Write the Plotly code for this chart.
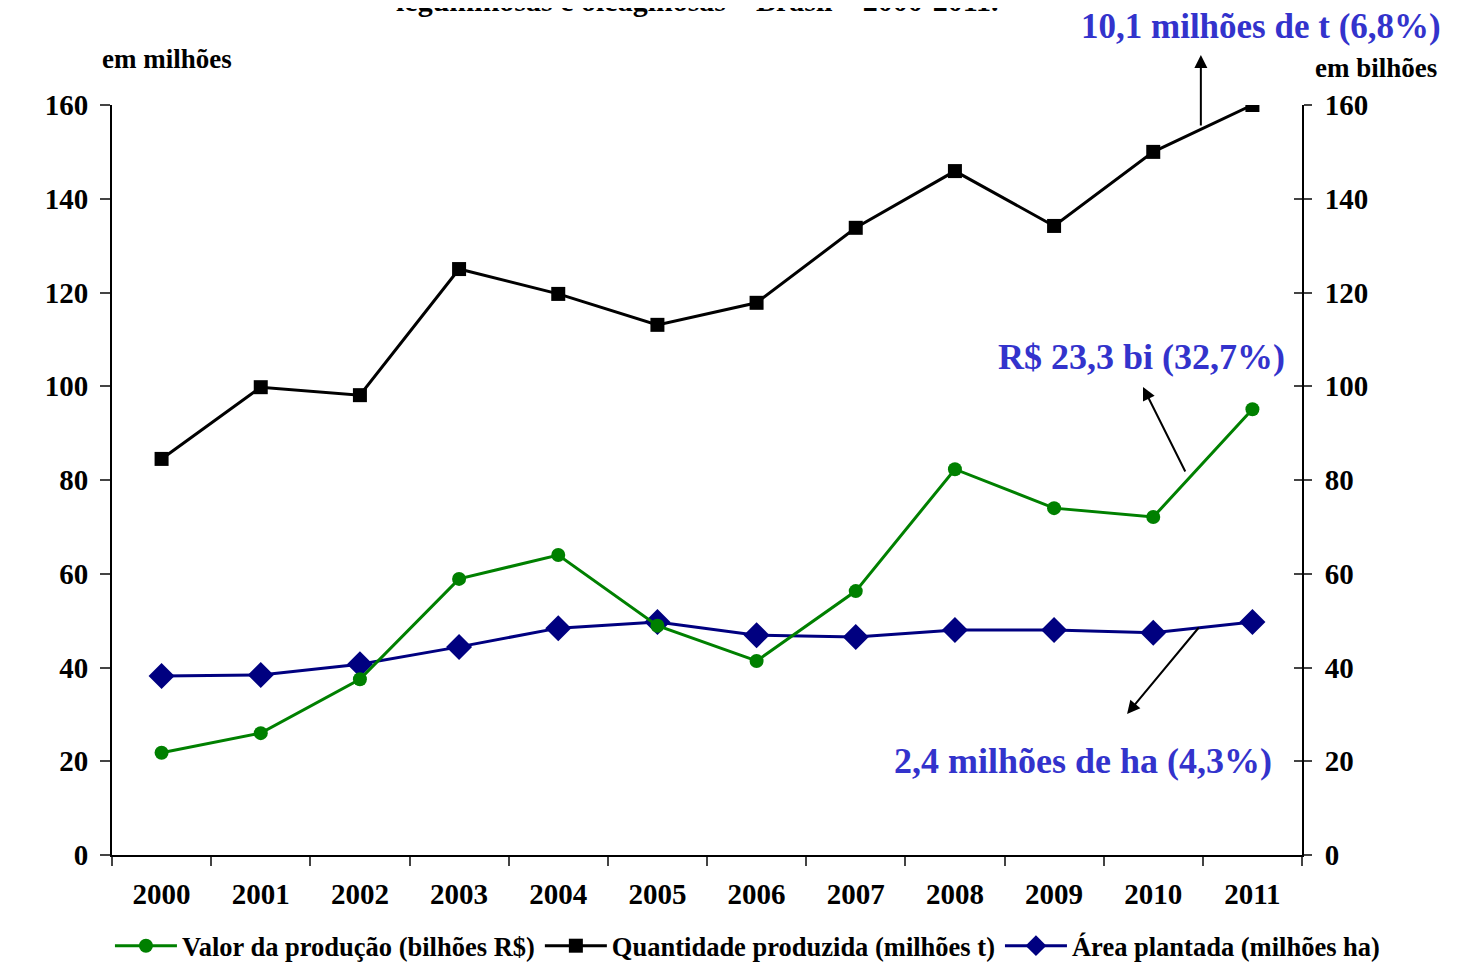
import plotly.graph_objects as go

years = ["2000", "2001", "2002", "2003", "2004", "2005", "2006", "2007", "2008", "2009", "2010", "2011"]
valor = [21.8, 26.0, 37.5, 58.9, 64.0, 48.9, 41.4, 56.3, 82.3, 74.0, 72.1, 95.1]
quantidade = [84.5, 99.8, 98.1, 125.0, 119.7, 113.1, 117.8, 133.8, 145.9, 134.2, 150.0, 160.0]
area = [38.2, 38.4, 40.7, 44.4, 48.4, 49.7, 46.9, 46.5, 48.0, 48.0, 47.4, 49.7]
y_ticks = [0, 20, 40, 60, 80, 100, 120, 140, 160]

names = ["Valor da produção (bilhões R$)", "Quantidade produzida (milhões t)", "Área plantada (milhões ha)"]

FONT = "Liberation Serif, Times New Roman, serif"
BLUE_TXT = "#3333CC"

fig = go.Figure()
fig.add_trace(go.Scatter(x=years, y=valor, name=names[0], mode="lines+markers",
                         line=dict(color="#008000", width=3),
                         marker=dict(symbol="circle", size=14, color="#008000"),
                         yaxis="y2"))
fig.add_trace(go.Scatter(x=years, y=quantidade, name=names[1], mode="lines+markers",
                         line=dict(color="black", width=3),
                         marker=dict(symbol="square", size=14, color="black")))
fig.add_trace(go.Scatter(x=years, y=area, name=names[2], mode="lines+markers",
                         line=dict(color="#000080", width=3),
                         marker=dict(symbol="diamond", size=20, color="#000080")))

axis_font = dict(family=FONT, size=29, color="black", weight="bold")
yr = [0, 160]

# the page body adds an 8px offset, so the figure is 8px smaller than the window
fig.update_layout(
    width=1455, height=955,
    paper_bgcolor="white", plot_bgcolor="white",
    margin=dict(l=104, r=161, t=97, b=108, autoexpand=False),
    font=dict(family=FONT, color="black"),
    showlegend=True,
    legend=dict(orientation="h", xref="paper", yref="paper",
                x=1.0697, xanchor="right", y=-0.1213, yanchor="middle",
                font=dict(family=FONT, size=26.5, color="black", weight="bold"),
                itemwidth=62, tracegroupgap=0, bgcolor="rgba(0,0,0,0)"),
    xaxis=dict(type="category", tickson="boundaries", ticks="outside", ticklen=9, tickwidth=2,
               showline=True, linecolor="black", linewidth=2, showgrid=False, zeroline=False,
               tickfont=axis_font, ticklabelstandoff=12, automargin=False,
               range=[-0.5, 11.5]),
    yaxis=dict(range=yr, tickvals=y_ticks, ticks="outside", ticklen=10, tickwidth=2,
               showline=True, linecolor="black", linewidth=2, showgrid=False, zeroline=False,
               tickfont=axis_font, ticklabelstandoff=6, automargin=False),
    yaxis2=dict(range=yr, tickvals=y_ticks, overlaying="y", side="right", ticks="outside",
                ticklen=8, tickwidth=2, showline=True, linecolor="black", linewidth=2,
                showgrid=False, zeroline=False, tickfont=axis_font,
                ticklabelstandoff=7, automargin=False),
    yaxis3=dict(range=yr, tickvals=y_ticks, overlaying="y", side="right", ticks="inside",
                ticklen=8, tickwidth=2, showline=False, showgrid=False, zeroline=False,
                showticklabels=False, automargin=False),
)

# helper trace so that the third (tick-only) axis is drawn
fig.add_trace(go.Scatter(x=[years[0]], y=[None], yaxis="y3", showlegend=False, hoverinfo="skip"))

ann = []
ann.append(dict(text="<b>leguminosas e oleaginosas – Brasil – 2000-2011.</b>", xref="paper", yref="paper",
                x=0.4916, y=1.14, showarrow=False, font=dict(family=FONT, size=30, color="black"),
                xanchor="center", yanchor="middle"))
ann.append(dict(text="<b>em milhões</b>", xref="paper", yref="paper", x=0.046, y=1.0613,
                showarrow=False, font=dict(family=FONT, size=27, color="black"),
                xanchor="center", yanchor="middle"))
ann.append(dict(text="<b>em bilhões</b>", xref="paper", yref="paper", x=1.062, y=1.049,
                showarrow=False, font=dict(family=FONT, size=27, color="black"),
                xanchor="center", yanchor="middle"))
ann.append(dict(text="<b>10,1 milhões de t (6,8%)</b>", xref="paper", yref="paper", x=0.9655, y=1.104,
                showarrow=False, font=dict(family=FONT, size=35, color=BLUE_TXT),
                xanchor="center", yanchor="middle"))
ann.append(dict(text="<b>R$ 23,3 bi (32,7%)</b>", xref="paper", yref="paper", x=0.8655, y=0.664,
                showarrow=False, font=dict(family=FONT, size=36, color=BLUE_TXT),
                xanchor="center", yanchor="middle"))
ann.append(dict(text="<b>2,4 milhões de ha (4,3%)</b>", xref="paper", yref="paper", x=0.816, y=0.1253,
                showarrow=False, font=dict(family=FONT, size=36, color=BLUE_TXT),
                xanchor="center", yanchor="middle"))
# arrows
for (hx, hy, axp, ayp) in [(0.915, 1.0667, 0, 72), (0.8664, 0.624, 43, 86), (0.853, 0.188, 73, -88)]:
    ann.append(dict(text="", xref="paper", yref="paper", x=hx, y=hy, ax=axp, ay=ayp,
                    showarrow=True, arrowhead=2, arrowsize=1.3, arrowwidth=2, arrowcolor="black"))
fig.update_layout(annotations=ann)

fig.write_html("out.html")
